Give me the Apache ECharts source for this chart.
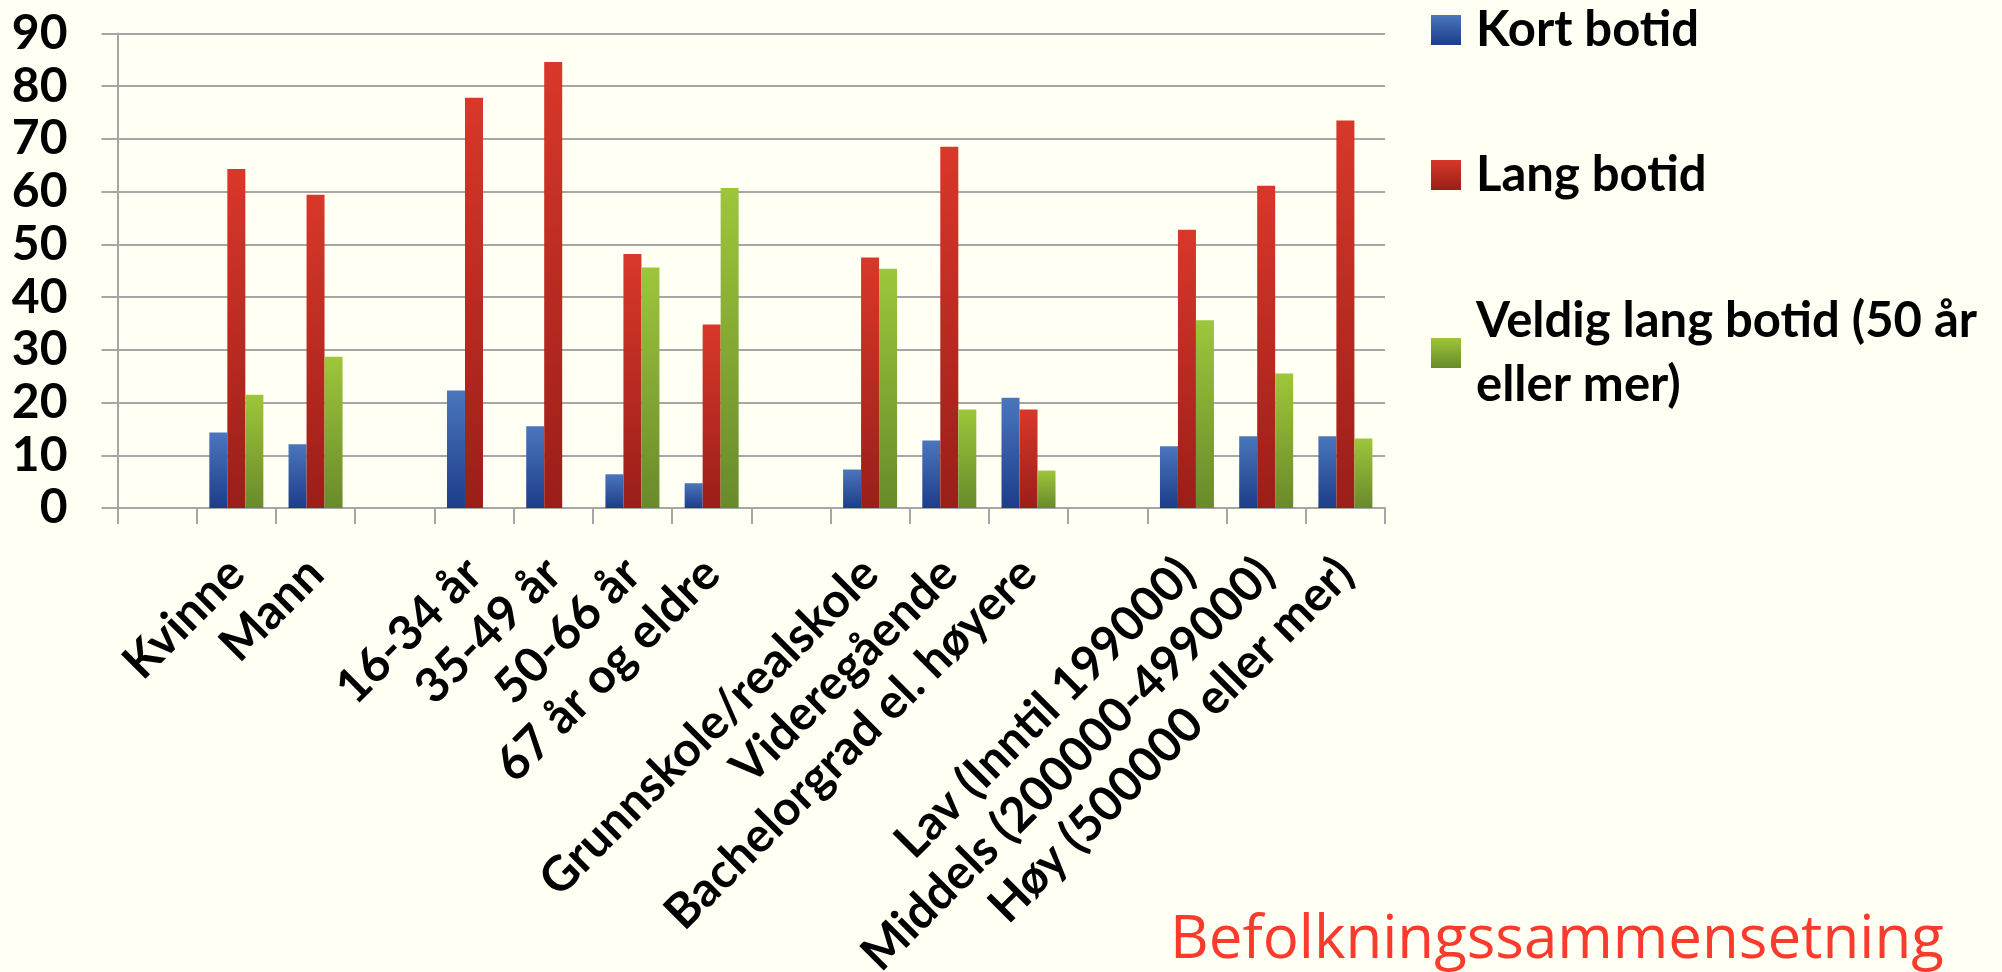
<!DOCTYPE html>
<html>
<head>
<meta charset="utf-8">
<script src="https://cdn.jsdelivr.net/npm/echarts@6/dist/echarts.min.js"></script>
<style>
html,body{margin:0;padding:0;background:#fffff3;}
#c{width:2002px;height:972px;}
</style>
</head>
<body>
<div id="c"></div>
<script>
// ---- data ----
const categories = [' ', 'Kvinne', 'Mann', '  ', '16-34 år', '35-49 år', '50-66 år', '67 år og eldre', '   ',
  'Grunnskole/realskole', 'Videregående', 'Bachelorgrad el. høyere', '    ',
  'Lav (Inntil 199000)', 'Middels (200000-499000)', 'Høy (500000 eller mer)'];
const seriesNames = ['Kort botid', 'Lang botid', 'Veldig lang botid (50 år eller mer)'];
const kortBotid   = [null, 14.3, 12.1, null, 22.3, 15.5, 6.4, 4.7, null, 7.3, 12.8, 20.9, null, 11.7, 13.6, 13.6];
const langBotid   = [null, 64.3, 59.4, null, 77.8, 84.6, 48.2, 34.8, null, 47.5, 68.5, 18.7, null, 52.8, 61.1, 73.5];
const veldigLang  = [null, 21.5, 28.7, null, null, null, 45.6, 60.7, null, 45.4, 18.7, 7.1, null, 35.6, 25.5, 13.2];
const yMin = 0, yMax = 90, yStep = 10;
const titleText = 'Befolkningssammensetning';

// ---- styles ----
const FONT = 'Lato';
const GRID_GRAY = '#a6a6a6';
function grad(top, bottom) {
  return {type: 'linear', x: 0, y: 0, x2: 0, y2: 1,
    colorStops: [{offset: 0, color: top}, {offset: 1, color: bottom}]};
}
const colors = [grad('#4a76bc', '#1d3d8a'), grad('#d8382a', '#9a1e19'), grad('#9dc63a', '#698a2b')];
const axisFont = {fontFamily: FONT, fontWeight: 'bold', fontSize: 48, color: '#000'};
const legendFont = {fontFamily: FONT, fontWeight: 'bold', fontSize: 49, color: '#000'};

const legendBase = {
  orient: 'vertical', left: 1431, padding: 0, itemWidth: 30, itemHeight: 30, icon: 'rect',
  selectedMode: false,
  textStyle: Object.assign({}, legendFont, {lineHeight: 64, padding: [0, 0, 0, 10]})
};

const option = {
  backgroundColor: '#fffff3',
  animation: false,
  title: {
    text: titleText, left: 1170, top: 911, padding: 0,
    textStyle: {color: '#f93b2e', fontSize: 60, lineHeight: 60, fontWeight: 'normal', fontFamily: 'Open Sans'}
  },
  legend: [
    Object.assign({}, legendBase, {data: [seriesNames[0]], top: -2}),
    Object.assign({}, legendBase, {data: [seriesNames[1]], top: 143}),
    Object.assign({}, legendBase, {data: [seriesNames[2]], top: 257,
      formatter: function () { return 'Veldig lang botid (50 år\neller mer)'; },
      textStyle: Object.assign({}, legendFont, {lineHeight: 64, padding: [64, 0, 0, 10]})})
  ],
  grid: {left: 117.5, right: 617, top: 33.5, bottom: 464, containLabel: false, outerBoundsMode: 'none'},
  xAxis: {
    type: 'category', data: categories, boundaryGap: true,
    axisLine: {show: true, lineStyle: {color: GRID_GRAY, width: 2}},
    axisTick: {show: true, interval: 0, length: 16, lineStyle: {color: GRID_GRAY, width: 2}},
    axisLabel: Object.assign({interval: 0, rotate: 45, margin: 58}, axisFont),
    splitLine: {show: false}
  },
  yAxis: {
    type: 'value', min: yMin, max: yMax, interval: yStep,
    axisLine: {show: true, lineStyle: {color: GRID_GRAY, width: 2}},
    axisTick: {show: true, length: 16, lineStyle: {color: GRID_GRAY, width: 2}},
    axisLabel: Object.assign({margin: 50}, axisFont),
    splitLine: {show: true, lineStyle: {color: GRID_GRAY, width: 2}}
  },
  series: [kortBotid, langBotid, veldigLang].map(function (d, i) {
    return {
      name: seriesNames[i], type: 'bar', data: d, barWidth: 18, barGap: '0%',
      itemStyle: {color: colors[i]}
    };
  })
};
echarts.init(document.getElementById('c'), null, {renderer: 'canvas'}).setOption(option);
</script>
</body>
</html>
